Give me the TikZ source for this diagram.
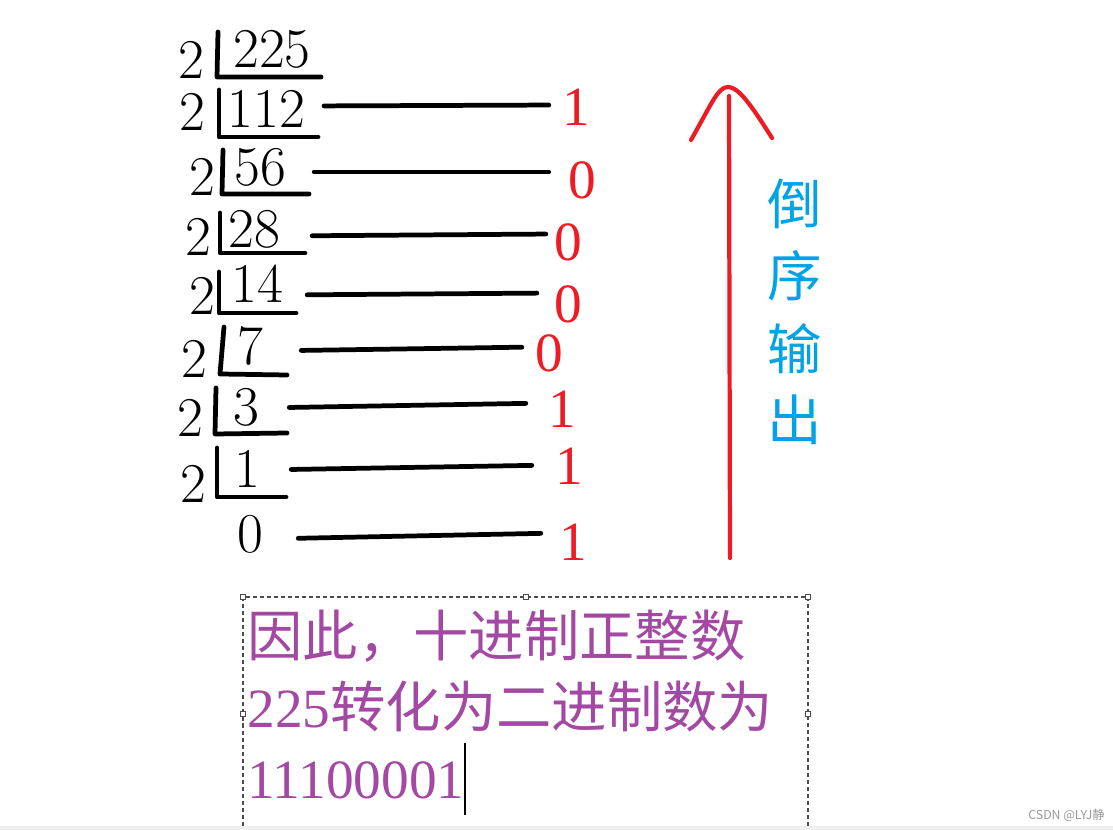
\documentclass[tikz,border=0pt]{standalone}
\usepackage{fontspec}
\newfontfamily\cjk{Noto Sans CJK SC}
\newfontfamily\remfont{Liberation Serif}
\usepackage{tikz}
\definecolor{remred}{RGB}{237,28,36}
\definecolor{notepurple}{RGB}{163,73,164}
\definecolor{sideblue}{RGB}{0,162,232}

\begin{document}
\begin{tikzpicture}[x=0.02cm, y=-0.02cm,
  digit/.style={inner sep=0pt, font=\fontsize{32}{38}\selectfont},
  rem/.style={inner sep=0pt, text=remred, font=\remfont\fontsize{31.5}{38}\selectfont},
  bar/.style={line width=2.7pt, line cap=round, line join=round},
  arr/.style={line width=2.4pt, remred, line cap=round, line join=round},
  side/.style={inner sep=0pt, text=sideblue, font=\cjk\fontsize{31}{38}\selectfont},
  note/.style={inner sep=0pt, anchor=base west, text=notepurple,
               font=\cjk\fontsize{31.5}{40}\selectfont},
  frame/.style={draw=black!70, line width=0.6pt, dash pattern=on 2.3pt off 1.7pt},
  handle/.style={draw=black!70, fill=white, line width=0.5pt, inner sep=0pt,
                 minimum size=1mm}
]
  \useasboundingbox (0,0) rectangle (1113,830);

  % Row 1
  \node[digit] (d1) at (191,60) {2};
  \node[digit] (q1) at (272,49.5) {225};
  \draw[bar] (218,32) -- (217,77) -- (321,77);
  % Row 2
  \node[digit] (d2) at (192.5,111.5) {2};
  \node[digit] (q2) at (266.5,109) {112};
  \node[rem] (r2) at (576,107) {1};
  \draw[bar] (219,90) -- (219,137) -- (318,137);
  % Row 3
  \node[digit] (d3) at (202,177) {2};
  \node[digit] (q3) at (260,167.5) {56};
  \node[rem] (r3) at (582,180) {0};
  \draw[bar] (223,150) -- (222,194) -- (309,194);
  % Row 4
  \node[digit] (d4) at (198,237) {2};
  \node[digit] (q4) at (254,229.5) {28};
  \node[rem] (r4) at (568,242) {0};
  \draw[bar] (220,213) -- (220,253) -- (305,253);
  % Row 5
  \node[digit] (d5) at (202,296) {2};
  \node[digit] (q5) at (257,284) {14};
  \node[rem] (r5) at (568,304) {0};
  \draw[bar] (219,272) -- (219,313) -- (296,313);
  % Row 6
  \node[digit] (d6) at (194,359) {2};
  \node[digit] (q6) at (250,345.5) {7};
  \node[rem] (r6) at (549,353) {0};
  \draw[bar] (224,327) -- (220,374) -- (287,375);
  % Row 7
  \node[digit] (d7) at (190,418) {2};
  \node[digit] (q7) at (246,407.5) {3};
  \node[rem] (r7) at (562,409) {1};
  \draw[bar] (216,388) -- (215,434) -- (287,433);
  % Row 8
  \node[digit] (d8) at (193,484) {2};
  \node[digit] (q8) at (247,468.5) {1};
  \node[rem] (r8) at (569,466) {1};
  \draw[bar] (217,448) -- (217,497) -- (286,497);
  % Row 9
  \node[digit] (q9) at (250,534) {0};
  \node[rem] (r9) at (573,542) {1};

  % Remainder lines
  \draw[bar, shorten <=3.7mm, shorten >=2.6mm] (q2.east |- 0,106) -- (r2.west |- 0,105);
  \draw[bar, shorten <=5.6mm, shorten >=3.8mm] (q3.east |- 0,172) -- (r3.west |- 0,172);
  \draw[bar, shorten <=6.4mm, shorten >=1.6mm] (q4.east |- 0,236) -- (r4.west |- 0,234);
  \draw[bar, shorten <=4.8mm, shorten >=3.4mm] (q5.east |- 0,295) -- (r5.west |- 0,293);
  \draw[bar, shorten <=7.6mm, shorten >=2.6mm] (q6.east |- 0,351) -- (r6.west |- 0,347);
  \draw[bar, shorten <=6mm, shorten >=4.4mm] (q7.east |- 0,408) -- (r7.west |- 0,403);
  \draw[bar, shorten <=6.2mm, shorten >=4.6mm] (q8.east |- 0,470) -- (r8.west |- 0,465);
  \draw[bar, shorten <=7mm, shorten >=3.6mm] (q9.east |- 0,539) -- (r9.west |- 0,533);

  % Reverse arrow
  \coordinate (tail) at (730,558);
  \coordinate (tip) at (729,96);
  \coordinate (headL) at (691,140);
  \coordinate (peak) at (728,87);
  \coordinate (headR) at (772,138);
  \draw[arr] (tail) -- (tip);
  \draw[arr] (headL) .. controls (712,103) and (718,87) .. (peak)
                     .. controls (738,87) and (750,103) .. (headR);
  \node[side] (c1) at (795,204) {倒};
  \node[side] (c2) at (795,276) {序};
  \node[side] (c3) at (795,349) {输};
  \node[side] (c4) at (795,420) {出};

  % Text box
  \draw[frame] (243,597) rectangle (808,840);
  \node[handle] (h1) at (243,597) {};
  \node[handle] (h2) at (526,597) {};
  \node[handle] (h3) at (808,597) {};
  \node[handle] (h4) at (243,714) {};
  \node[handle] (h5) at (808,714) {};
  \node[note] (t1) at (247,657) {因此，十进制正整数};
  \node[note] (t2) at (247,728) {{\remfont 225}转化为二进制数为};
  \node[note] (t3) at (247,799) {\remfont 11100001};
  \draw[line width=0.8pt] (t3.east |- 0,743) -- (t3.east |- 0,815);

  % Bottom strip
  \fill[black!6] (0,826) rectangle (1113,830);
  \node[anchor=east, inner sep=0pt, text=black!40, font=\cjk\fontsize{7}{8}\selectfont]
    (mark) at (1105,815) {CSDN @LYJ静};
\end{tikzpicture}
\end{document}
